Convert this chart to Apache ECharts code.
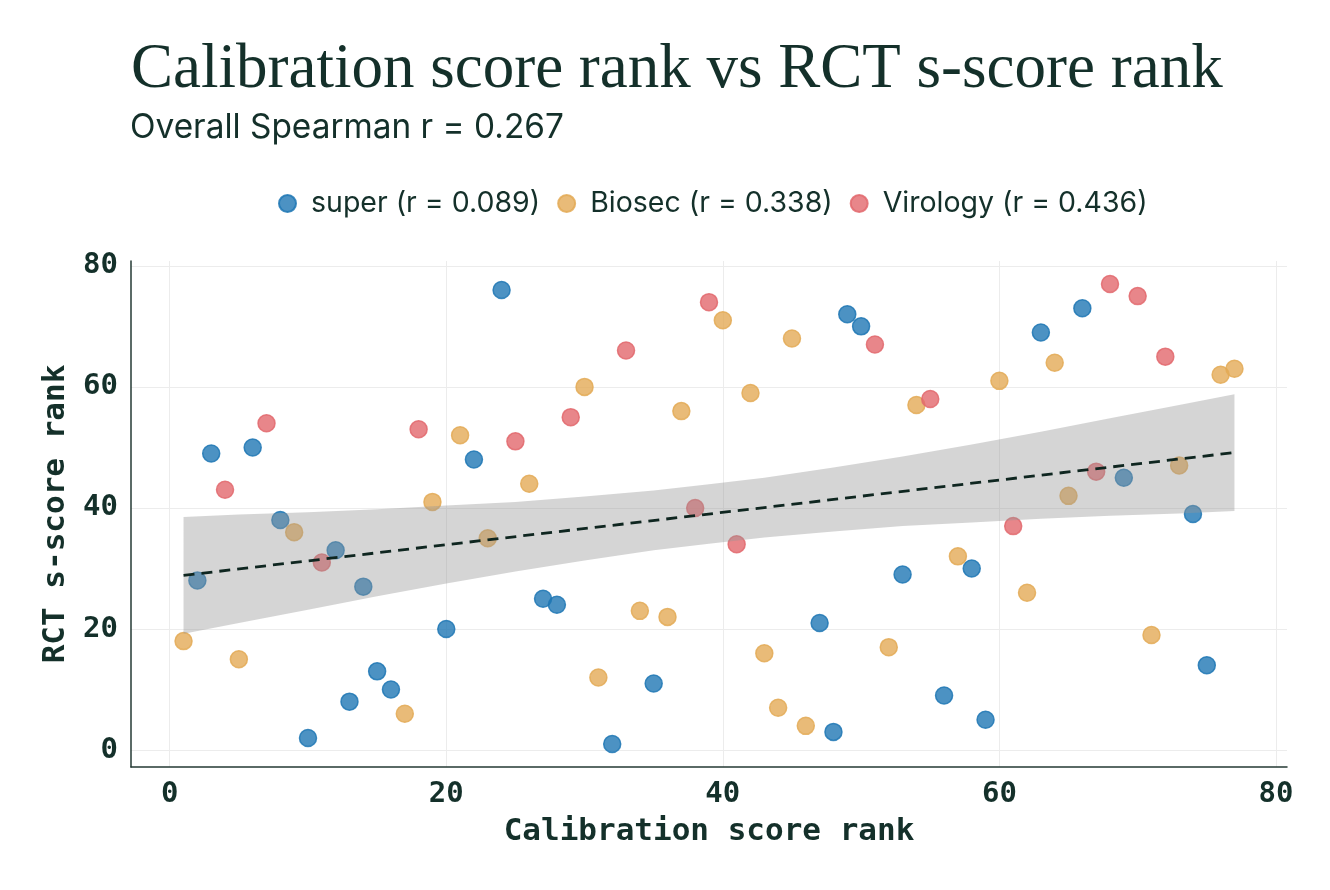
<!DOCTYPE html>
<html>
<head>
<meta charset="utf-8">
<script src="https://cdn.jsdelivr.net/npm/echarts@6/dist/echarts.min.js"></script>
<style>
  html, body { margin: 0; padding: 0; background: #fff; }
  #chart { width: 1330px; height: 890px; }
</style>
</head>
<body>
<div id="chart"></div>
<script>
// points, one per calibration rank
const superX = [2, 3, 6, 8, 10, 12, 13, 14, 15, 16, 20, 22, 24, 27, 28, 32, 35, 47, 48, 49, 50, 53, 56, 58, 59, 63, 66, 69, 74, 75]
const superY = [28, 49, 50, 38, 2, 33, 8, 27, 13, 10, 20, 48, 76, 25, 24, 1, 11, 21, 3, 72, 70, 29, 9, 30, 5, 69, 73, 45, 39, 14]
const biosecX = [1, 5, 9, 17, 19, 21, 23, 26, 30, 31, 34, 36, 37, 40, 42, 43, 44, 45, 46, 52, 54, 57, 60, 62, 64, 65, 71, 73, 76, 77]
const biosecY = [18, 15, 36, 6, 41, 52, 35, 44, 60, 12, 23, 22, 56, 71, 59, 16, 7, 68, 4, 17, 57, 32, 61, 26, 64, 42, 19, 47, 62, 63]
const virologyX = [4, 7, 11, 18, 25, 29, 33, 38, 39, 41, 51, 55, 61, 67, 68, 70, 72]
const virologyY = [43, 54, 31, 53, 51, 55, 66, 40, 74, 34, 67, 58, 37, 46, 77, 75, 65]

// fitted line and its band
const fitX = [1, 77]
const fitY = [28.85, 49.15]
const bandX = [1, 5, 10, 15, 20, 25, 30, 35, 39, 43, 48, 53, 58, 63, 68, 73, 77]
const bandLow = [19.2, 21.0, 23.2, 25.4, 27.5, 29.5, 31.3, 33.0, 34.1, 35.1, 36.1, 37.0, 37.6, 38.2, 38.7, 39.1, 39.5]
const bandHigh = [38.5, 38.9, 39.3, 39.8, 40.4, 41.0, 41.9, 42.9, 43.9, 45.0, 46.7, 48.5, 50.5, 52.6, 54.8, 57.0, 58.8]

const tickValues = [0, 20, 40, 60, 80]
const seriesNames = ['super (r = 0.089)', 'Biosec (r = 0.338)', 'Virology (r = 0.436)']

const ink = '#14302a'
const monoFont = 'DejaVu Sans Mono'

const pairs = (xs, ys) => xs.map((x, i) => [x, ys[i]])

const dotSeries = (name, xs, ys, base) => ({
  name: name,
  type: 'scatter',
  data: pairs(xs, ys),
  symbolSize: 17,
  itemStyle: {
    color: 'rgba(' + base + ',0.8)',
    borderColor: 'rgba(' + base + ',0.85)',
    borderWidth: 1.5,
    opacity: 1
  },
  emphasis: { disabled: true },
  z: 2
})

const axisCommon = {
  type: 'value',
  min: -2.8,
  max: 80.8,
  nameLocation: 'middle',
  nameTextStyle: { fontFamily: monoFont, fontWeight: 'bold', fontSize: 31, color: ink },
  axisLine: { show: true, onZero: false, lineStyle: { color: '#243a34', width: 1.5 } },
  axisTick: { show: false, customValues: tickValues },
  axisLabel: { customValues: tickValues, fontFamily: monoFont, fontWeight: 'bold', fontSize: 29, color: ink, margin: 13 },
  splitLine: { show: true, lineStyle: { color: '#ececec', width: 1 } }
}

const renderChart = () => {
  var chart = echarts.init(document.getElementById('chart'))
  var option = {
    animation: false,
    backgroundColor: '#fff',
    title: [{
      text: 'Calibration score rank vs RCT s-score rank',
      left: 126,
      top: 34,
      textStyle: { fontFamily: 'Liberation Serif', fontWeight: 'normal', fontSize: 63, color: ink }
    }, {
      text: 'Overall Spearman r = 0.267',
      left: 125,
      top: 106,
      textStyle: { fontFamily: 'Inter', fontWeight: 'normal', fontSize: 33.4, color: ink }
    }],
    legend: {
      data: seriesNames,
      left: 273,
      top: 184,
      icon: 'circle',
      itemWidth: 17,
      itemHeight: 17,
      itemGap: 17,
      textStyle: { fontFamily: 'Inter', fontSize: 28.5, color: ink, padding: [0, 0, 0, 10] }
    },
    grid: { left: 131, right: 43, top: 261, bottom: 123 },
    xAxis: Object.assign({}, axisCommon, { name: 'Calibration score rank', nameGap: 49 }),
    yAxis: Object.assign({}, axisCommon, { name: 'RCT s-score rank', nameGap: 60, nameRotate: 90 }),
    series: [
      dotSeries(seriesNames[0], superX, superY, '31,119,180'),
      dotSeries(seriesNames[1], biosecX, biosecY, '227,170,86'),
      dotSeries(seriesNames[2], virologyX, virologyY, '226,104,109'),
      {
        name: 'band',
        type: 'custom',
        data: [0],
        silent: true,
        z: 3,
        renderItem: (params, api) => {
          const top = bandX.map((x, i) => api.coord([x, bandHigh[i]]))
          const bottom = bandX.map((x, i) => api.coord([x, bandLow[i]])).reverse()
          return {
            type: 'polygon',
            shape: { points: top.concat(bottom) },
            style: { fill: 'rgba(150,150,150,0.4)', stroke: null }
          }
        }
      },
      {
        name: 'fit',
        type: 'line',
        data: pairs(fitX, fitY),
        symbol: 'none',
        silent: true,
        z: 4,
        lineStyle: { color: '#0f2620', width: 2.8, type: [11, 7] }
      }
    ]
  }
  chart.setOption(option)
}

document.addEventListener('DOMContentLoaded', function () {
  renderChart()
})
</script>
</body>
</html>
